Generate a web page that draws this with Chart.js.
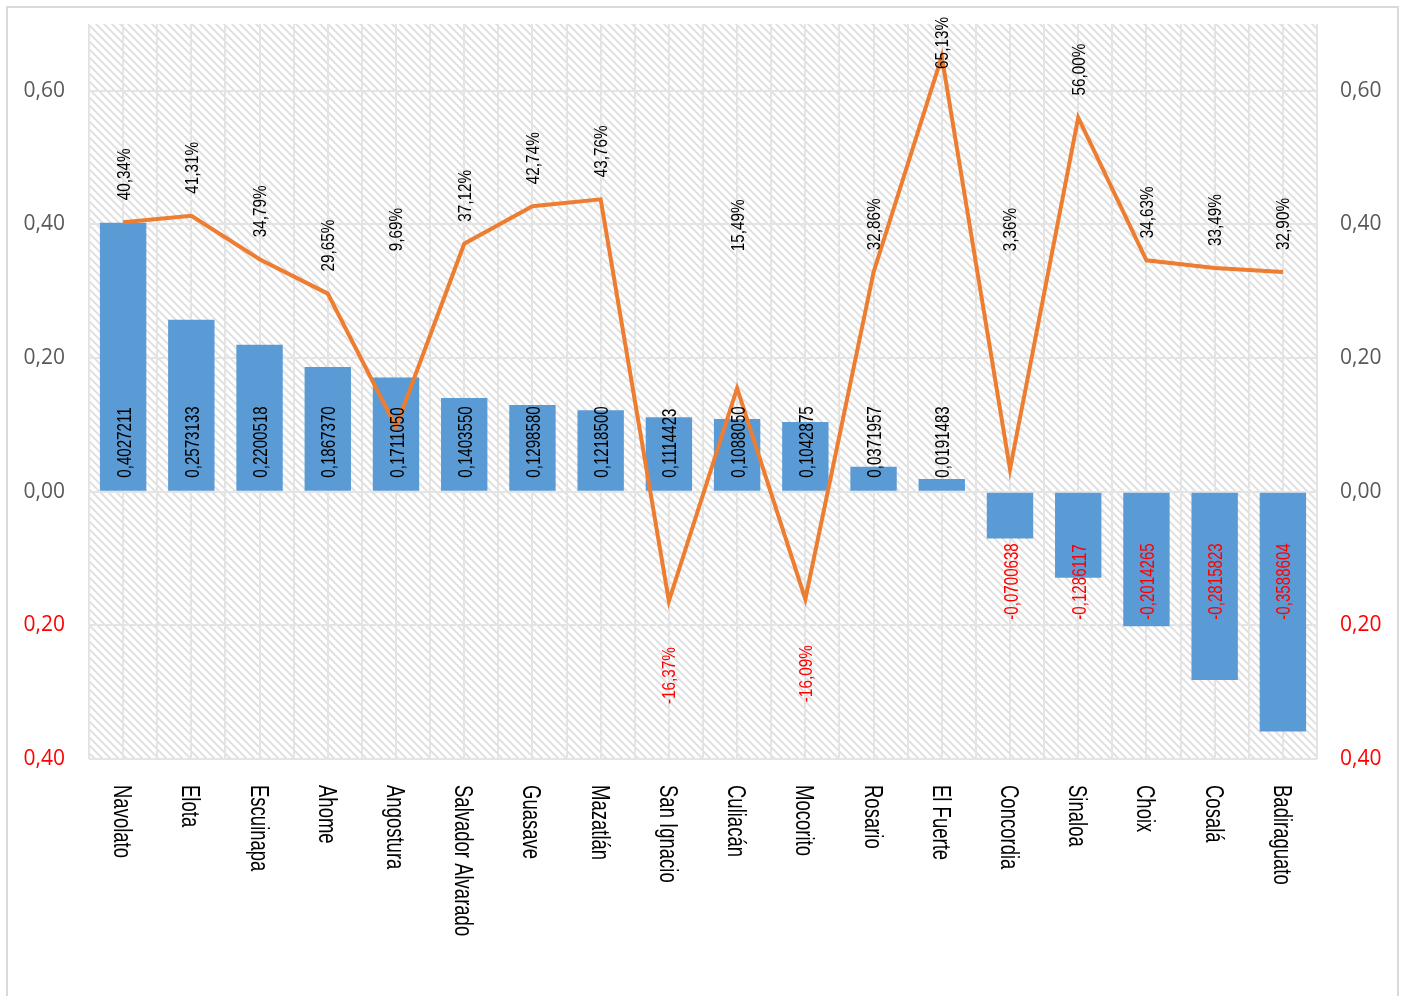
<!DOCTYPE html>
<html>
<head>
<meta charset="utf-8">
<script src="https://cdn.jsdelivr.net/npm/chart.js@4.4.1/dist/chart.umd.min.js"></script>
<style>
  html, body { margin: 0; padding: 0; background: #fff; }
  #wrap { position: relative; width: 1403px; height: 996px; overflow: hidden; }
  #frame {
    position: absolute; left: 6px; top: 6px; width: 1393px; height: 1100px;
    box-sizing: border-box; border: 2px solid #d9d9d9; pointer-events: none;
  }
</style>
</head>
<body>
<div id="wrap">
  <canvas id="chart" width="1403" height="996"></canvas>
  <div id="frame"></div>
</div>
<script>
const categories = [
  "Navolato", "Elota", "Escuinapa", "Ahome", "Angostura", "Salvador Alvarado",
  "Guasave", "Mazatlán", "San Ignacio", "Culiacán", "Mocorito", "Rosario",
  "El Fuerte", "Concordia", "Sinaloa", "Choix", "Cosalá", "Badiraguato",
];
const barValues = [
  0.4027211, 0.2573133, 0.2200518, 0.186737, 0.171105, 0.140355,
  0.129858, 0.12185, 0.1114423, 0.108805, 0.1042875, 0.0371957,
  0.0191483, -0.0700638, -0.1286117, -0.2014265, -0.2815823, -0.3588604,
];
const lineValues = [
  0.4034, 0.4131, 0.3479, 0.2965, 0.0969, 0.3712,
  0.4274, 0.4376, -0.1637, 0.1549, -0.1609, 0.3286,
  0.6513, 0.0336, 0.56, 0.3463, 0.3349, 0.329,
];
const yTicks = [-0.4, -0.2, 0, 0.2, 0.4, 0.6];
const yMin = -0.4;
const yMax = 0.7;

const gridColor = "#e4e4e4";
const blue = "#5b9bd5";
const orange = "#ed7d31";
const red = "#ff0000";

const fmtTick = (v) => Math.abs(v).toFixed(2).replace(".", ",");
const fmtBar = (v) => v.toFixed(7).replace(".", ",");
const fmtPct = (v) => (v * 100).toFixed(2).replace(".", ",") + "%";

// rotated text, sx squeezes along the reading direction
function rotText(ctx, text, x, y, angle, align, size, color, sx) {
  ctx.save();
  ctx.translate(x, y);
  ctx.rotate(angle);
  ctx.scale(sx, 1);
  ctx.font = size + 'px "Liberation Sans", Arial, sans-serif';
  ctx.fillStyle = color;
  ctx.textAlign = align;
  ctx.textBaseline = "alphabetic";
  ctx.fillText(text, 0, size * 0.358);
  ctx.restore();
}

function textLen(ctx, text, size, sx) {
  ctx.save();
  ctx.font = size + 'px "Liberation Sans", Arial, sans-serif';
  const w = ctx.measureText(text).width * sx;
  ctx.restore();
  return w;
}

const hatchPlugin = {
  id: "hatch",
  beforeDraw(chart) {
    const { ctx, chartArea: a } = chart;
    const tile = document.createElement("canvas");
    tile.width = 8;
    tile.height = 8;
    const t = tile.getContext("2d");
    t.strokeStyle = "#e1e1e1";
    t.lineWidth = 2;
    t.beginPath();
    t.moveTo(-2, -2); t.lineTo(10, 10);
    t.moveTo(-10, -2); t.lineTo(2, 10);
    t.moveTo(6, -2); t.lineTo(18, 10);
    t.stroke();
    ctx.save();
    ctx.fillStyle = ctx.createPattern(tile, "repeat");
    ctx.fillRect(a.left, a.top, a.right - a.left, a.bottom - a.top);
    ctx.restore();
  },
};

const labelPlugin = {
  id: "labels",
  afterDatasetsDraw(chart) {
    const { ctx, chartArea: a } = chart;
    const xs = chart.scales.x;
    const ys = chart.scales.y;
    const zero = ys.getPixelForValue(0);

    // bar values
    chart.getDatasetMeta(1).data.forEach((el, i) => {
      const v = barValues[i];
      if (v >= 0) {
        rotText(ctx, fmtBar(v), el.x, zero - 14, -Math.PI / 2, "left", 21, "#000", 0.72);
      } else {
        rotText(ctx, fmtBar(v), el.x, zero + 128, -Math.PI / 2, "left", 21, red, 0.72);
      }
    });

    // line percentages
    chart.getDatasetMeta(0).data.forEach((el, i) => {
      const v = lineValues[i];
      const txt = fmtPct(v);
      const len = textLen(ctx, txt, 18, 0.85);
      if (v < 0) {
        rotText(ctx, txt, el.x, el.y + 46, -Math.PI / 2, "right", 18, red, 0.85);
      } else {
        let bottom = v < 0.2 ? ys.getPixelForValue(0.36) : el.y - 22;
        if (bottom - len < a.top - 7) bottom = a.top - 7 + len;
        rotText(ctx, txt, el.x, bottom, -Math.PI / 2, "left", 18, "#000", 0.85);
      }
    });

    // category labels, read top to bottom
    categories.forEach((c, i) => {
      rotText(ctx, c, xs.getPixelForValue(i), a.bottom + 26, Math.PI / 2, "left", 25, "#000", 0.74);
    });
  },
};

const tickFont = { family: '"Open Sans", sans-serif', size: 21 };
const tickColor = (c) => (c.tick.value < 0 ? red : "#595959");

// fixed box sizes, no extra room for end labels
const fitY = (w) => (s) => {
  s.width = w;
  s.paddingTop = 0;
  s.paddingBottom = 0;
};

new Chart(document.getElementById("chart"), {
  data: {
    labels: categories,
    datasets: [
      {
        type: "line",
        data: lineValues,
        borderColor: orange,
        borderWidth: 4,
        pointRadius: 0,
        tension: 0,
        order: 0,
      },
      {
        type: "bar",
        data: barValues,
        backgroundColor: blue,
        barPercentage: 0.68,
        categoryPercentage: 1,
        order: 1,
      },
    ],
  },
  options: {
    responsive: false,
    animation: false,
    layout: { padding: { top: 24, left: 0, right: 0, bottom: 0 } },
    plugins: { legend: { display: false }, tooltip: { enabled: false } },
    scales: {
      x: {
        type: "category",
        offset: true,
        grid: { color: gridColor, lineWidth: 2, offset: true, drawTicks: false },
        border: { display: false },
        ticks: { display: false },
        afterFit: (s) => { s.height = 237; },
      },
      x2: {
        type: "category",
        position: "top",
        labels: categories,
        offset: true,
        grid: { color: gridColor, lineWidth: 2, offset: false, drawTicks: false },
        border: { display: false },
        ticks: { display: false },
        afterFit: (s) => { s.height = 0; },
      },
      y: {
        position: "left",
        min: yMin,
        max: yMax,
        afterBuildTicks: (s) => { s.ticks = yTicks.map((v) => ({ value: v })); },
        grid: { color: gridColor, lineWidth: 2, drawTicks: false },
        border: { display: false },
        ticks: { callback: fmtTick, font: tickFont, color: tickColor, padding: 24 },
        afterFit: fitY(89),
      },
      y2: {
        position: "right",
        min: yMin,
        max: yMax,
        afterBuildTicks: (s) => { s.ticks = yTicks.map((v) => ({ value: v })); },
        grid: { display: false, drawTicks: false },
        border: { display: false },
        ticks: { callback: fmtTick, font: tickFont, color: tickColor, padding: 23 },
        afterFit: fitY(86),
      },
    },
  },
  plugins: [hatchPlugin, labelPlugin],
});
</script>
</body>
</html>
